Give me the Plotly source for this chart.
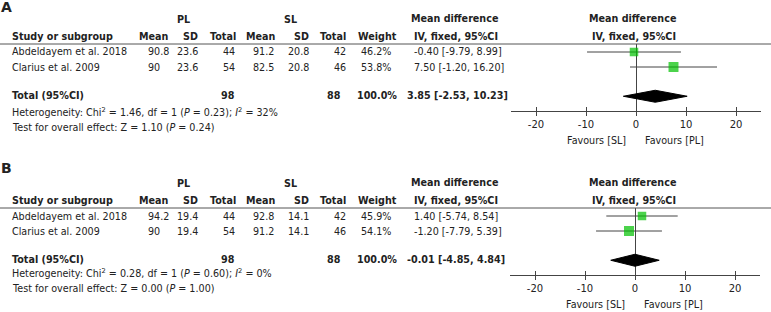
import plotly.graph_objects as go

W, H = 771, 312

# ---------------- data ----------------
studies = ["Abdeldayem et al. 2018", "Clarius et al. 2009"]

# Panel A
a_pl_mean = [90.8, 90]
a_pl_sd = [23.6, 23.6]
a_pl_n = [44, 54]
a_sl_mean = [91.2, 82.5]
a_sl_sd = [20.8, 20.8]
a_sl_n = [42, 46]
a_weight = [46.2, 53.8]
a_md = [-0.40, 7.50]
a_lo = [-9.79, -1.20]
a_hi = [8.99, 16.20]
a_total = [3.85, -2.53, 10.23]
a_het = [1.46, 1, 0.23, 32]   # chi2, df, P, I2
a_z = [1.10, 0.24]            # Z, P

# Panel B
b_pl_mean = [94.2, 90]
b_pl_sd = [19.4, 19.4]
b_pl_n = [44, 54]
b_sl_mean = [92.8, 91.2]
b_sl_sd = [14.1, 14.1]
b_sl_n = [42, 46]
b_weight = [45.9, 54.1]
b_md = [1.40, -1.20]
b_lo = [-5.74, -7.79]
b_hi = [8.54, 5.39]
b_total = [-0.01, -4.85, 4.84]
b_het = [0.28, 1, 0.60, 0]
b_z = [0.00, 1.00]

tick_vals = [-20, -10, 0, 10, 20]
tick_text = ["-20", "-10", "0", "10", "20"]
x_range = [-25, 25]

# ---------------- styling ----------------
FONT = "DejaVu Sans"
TXT = "#222222"
LINE = "#444444"
GREEN = "#00C000"
FS = 9.6

fig = go.Figure()
annotations = []
shapes = []


def px(x):
    return x / W


def py(y):
    return 1 - y / H


def text(x, y, s, anchor="left", bold=False, size=FS):
    if bold:
        s = "<b>" + s + "</b>"
    annotations.append(dict(
        x=px(x), y=py(y), xref="paper", yref="paper", text=s,
        xanchor=anchor, yanchor="middle", showarrow=False,
        font=dict(family=FONT, size=size, color=TXT), borderpad=0,
    ))


def panel(idx, letter, off, het_y, test_y, fav_y, xdom,
          pl_mean, pl_sd, pl_n, sl_mean, sl_sd, sl_n, weight, md, lo, hi,
          total, het, z):
    # letter
    text(0, 7 + off - (3 if letter == "B" else 0), letter, bold=True, size=14)
    # group headers
    text(183, 19 + off, "PL", "center", True)
    text(290, 19 + off, "SL", "center", True)
    text(455, 18 + off, "Mean difference", "center", True)
    text(633, 18 + off, "Mean difference", "center", True)
    # column headers
    hy = 36 + off
    text(11, hy, "Study or subgroup", "left", True)
    text(170, hy, "Mean", "right", True)
    text(199, hy, "SD", "right", True)
    text(237, hy, "Total", "right", True)
    text(277, hy, "Mean", "right", True)
    text(310, hy, "SD", "right", True)
    text(347, hy, "Total", "right", True)
    text(398, hy, "Weight", "right", True)
    text(456, hy, "IV, fixed, 95%CI", "center", True)
    text(634, hy, "IV, fixed, 95%CI", "center", True)
    # header rule
    shapes.append(dict(type="line", xref="paper", yref="paper", x0=0, x1=1,
                       y0=py(44 + off), y1=py(44 + off),
                       line=dict(color="#555555", width=1)))
    # study rows
    for i, s in enumerate(studies):
        ry = 52 + off + 15 * i
        text(11, ry, s)
        text(147, ry, f"{pl_mean[i]:g}", "left")
        text(199, ry, f"{pl_sd[i]:g}", "right")
        text(236, ry, f"{pl_n[i]}", "right")
        text(275, ry, f"{sl_mean[i]:g}", "right")
        text(310, ry, f"{sl_sd[i]:g}", "right")
        text(347, ry, f"{sl_n[i]}", "right")
        text(392, ry, f"{weight[i]:.1f}%", "right")
        text(413, ry, f"{md[i]:.2f} [{lo[i]:.2f}, {hi[i]:.2f}]", "left")
    # total row
    ty = 95 + off
    text(11, ty, "Total (95%CI)", "left", True)
    text(236, ty, f"{sum(pl_n)}", "right", True)
    text(342, ty, f"{sum(sl_n)}", "right", True)
    text(398, ty, f"{sum(weight):.1f}%", "right", True)
    text(406, ty, f"{total[0]:.2f} [{total[1]:.2f}, {total[2]:.2f}]", "left", True)
    text(11, het_y,
         f"Heterogeneity: Chi<sup>2</sup> = {het[0]:.2f}, df = {het[1]} "
         f"(<i>P</i> = {het[2]:.2f}); <i>I</i><sup>2</sup> = {het[3]}%")
    text(11, test_y,
         f"Test for overall effect: Z = {z[0]:.2f} (<i>P</i> = {z[1]:.2f})")

    xa = "x" if idx == 1 else "x3"
    xo = "x2" if idx == 1 else "x4"
    ya = "y" if idx == 1 else "y2"
    n = len(studies)
    rows = list(range(n))
    trow = n + 0.95
    # whiskers + squares
    fig.add_trace(go.Scatter(
        x=md, y=rows, xaxis=xa, yaxis=ya, mode="markers",
        marker=dict(symbol="square", color=GREEN,
                    size=[w * 0.185 for w in weight], line=dict(width=0)),
        error_x=dict(type="data", symmetric=False,
                     array=[h - m for h, m in zip(hi, md)],
                     arrayminus=[m - l for m, l in zip(md, lo)],
                     color=LINE, thickness=1, width=0),
        showlegend=False, hoverinfo="skip", cliponaxis=False,
    ))
    # diamond
    est, dlo, dhi = total
    fig.add_trace(go.Scatter(
        x=[dlo, est, dhi, est, dlo], y=[trow, trow - 0.4, trow, trow + 0.4, trow],
        xaxis=xa, yaxis=ya, mode="lines", fill="toself",
        fillcolor="black", line=dict(color="black", width=1),
        showlegend=False, hoverinfo="skip",
    ))
    # dummy trace for overlay tick axis
    fig.add_trace(go.Scatter(x=[0], y=[0], xaxis=xo, yaxis=ya, mode="markers",
                             marker=dict(opacity=0), showlegend=False,
                             hoverinfo="skip"))
    # favours labels
    for s, anc, sh in (("Favours [SL]", "right", -9), ("Favours [PL]", "left", 8)):
        annotations.append(dict(
            x=0, y=py(fav_y), xref=xa, yref="paper", text=s, xanchor=anc,
            xshift=sh, yanchor="middle", showarrow=False,
            font=dict(family=FONT, size=FS, color=TXT), borderpad=0))

    top, bot = 44 + off, 111 + off
    dom = [py(bot), py(top)]
    unit = 15.0
    r0 = 52 + off
    yr = [(bot - r0) / unit, (top - r0) / unit]
    xkey = "xaxis" if idx == 1 else "xaxis3"
    okey = "xaxis2" if idx == 1 else "xaxis4"
    ykey = "yaxis" if idx == 1 else "yaxis2"
    xdomain = [px(xdom[0]), px(xdom[1])]
    return {
        xkey: dict(domain=xdomain, range=x_range, anchor=ya,
                   tickvals=tick_vals, ticktext=tick_text,
                   ticks="outside", ticklen=4, tickcolor=LINE, tickwidth=1,
                   showline=True, linecolor=LINE, linewidth=1,
                   zeroline=True, zerolinecolor=LINE, zerolinewidth=1,
                   showgrid=False, fixedrange=True,
                   tickfont=dict(family=FONT, size=FS + 0.4, color=TXT)),
        okey: dict(domain=xdomain, range=x_range, anchor=ya, overlaying=xa,
                   tickvals=tick_vals, ticks="inside", ticklen=4,
                   tickcolor=LINE, tickwidth=1, showticklabels=False,
                   showline=False, zeroline=False, showgrid=False,
                   fixedrange=True),
        ykey: dict(domain=dom, range=yr, visible=False, showgrid=False,
                   zeroline=False, fixedrange=True),
    }


lay = {}
lay.update(panel(1, "A", 0, 112, 127, 141, (511, 761),
                 a_pl_mean, a_pl_sd, a_pl_n, a_sl_mean, a_sl_sd, a_sl_n,
                 a_weight, a_md, a_lo, a_hi, a_total, a_het, a_z))
lay.update(panel(2, "B", 164, 273, 288, 304, (510, 760),
                 b_pl_mean, b_pl_sd, b_pl_n, b_sl_mean, b_sl_sd, b_sl_n,
                 b_weight, b_md, b_lo, b_hi, b_total, b_het, b_z))

fig.update_layout(
    width=W, height=H, autosize=False,
    margin=dict(l=0, r=0, t=0, b=0, pad=0),
    paper_bgcolor="white", plot_bgcolor="white",
    font=dict(family=FONT, size=FS, color=TXT),
    annotations=annotations, shapes=shapes, showlegend=False,
    **lay,
)

fig.write_html("out.html",
               config={"displayModeBar": False, "staticPlot": True},
               post_script="document.body.style.margin='0';"
                           "document.body.style.overflow='hidden';")
